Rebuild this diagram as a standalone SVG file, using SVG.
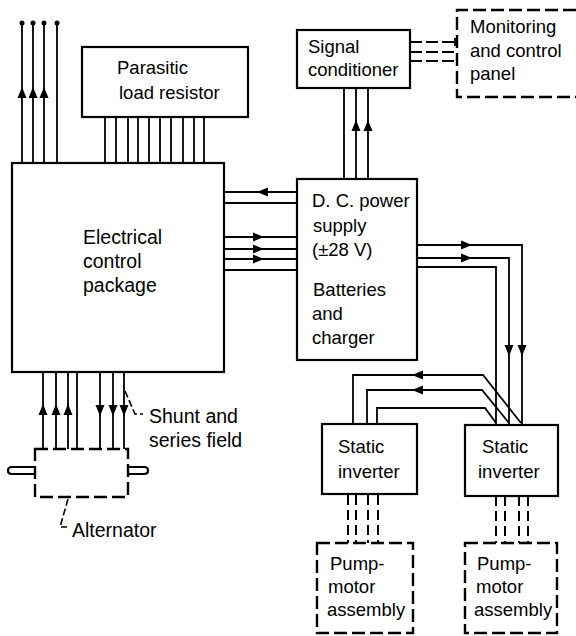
<svg xmlns="http://www.w3.org/2000/svg" xmlns:xlink="http://www.w3.org/1999/xlink" width="576" height="636" viewBox="0 0 576 636">
<style>
  .box { fill: none; stroke: #000; stroke-width: 2.2; }
  .dbox { fill: none; stroke: #000; stroke-width: 2.4; stroke-dasharray: 13 5; }
  .w { fill: none; stroke: #000; stroke-width: 1.8; }
  .dw { fill: none; stroke: #000; stroke-width: 2; stroke-dasharray: 10 5; }
  .ld { fill: none; stroke: #000; stroke-width: 1.6; stroke-dasharray: 7 3; }
  text { font-family: "Liberation Sans", Arial, sans-serif; font-size: 18.5px; fill: #000; }
  .lbl { font-size: 19.5px; }
</style>
<defs>
  <path id="ar" d="M0,0 L-4.5,11 L4.5,11 Z" fill="#000"/>
</defs>
<rect width="576" height="636" fill="#fff"/>

<g id="connectors">
  <!-- top outputs of electrical control package -->
  <path class="w" d="M22,23 V163 M33,23 V163 M44,23 V163 M57,23 V163"/>
  <circle cx="22" cy="23" r="2.5"/><circle cx="33" cy="23" r="2.5"/><circle cx="44" cy="23" r="2.5"/><circle cx="57" cy="23" r="2.5"/>
  <use xlink:href="#ar" transform="translate(22,87)"/>
  <use xlink:href="#ar" transform="translate(33,87)"/>
  <use xlink:href="#ar" transform="translate(44,87)"/>
  <!-- parasitic load resistor to ECP -->
  <path class="w" d="M105,117 V163 M116,117 V163 M128,117 V163 M138,117 V163 M149,117 V163 M160,117 V163 M171,117 V163 M183,117 V163 M194,117 V163 M204,117 V163"/>
  <!-- signal conditioner to DC -->
  <path class="w" d="M344,88 V179 M356,88 V179 M368,88 V179"/>
  <use xlink:href="#ar" transform="translate(356,120)"/>
  <use xlink:href="#ar" transform="translate(368,120)"/>
  <!-- signal conditioner to monitoring panel -->
  <path class="dw" style="stroke-dasharray:12 4" d="M410,42 H457 M410,52 H457 M410,61 H457"/>
  <path class="w" d="M455,38 V46"/>
  <!-- ECP <-> DC power supply -->
  <path class="w" d="M224,192 H297 M224,203 H297 M224,237 H297 M224,249 H297 M224,259 H297 M224,270 H297"/>
  <use xlink:href="#ar" transform="translate(257,192) rotate(-90)"/>
  <use xlink:href="#ar" transform="translate(264,237) rotate(90)"/>
  <use xlink:href="#ar" transform="translate(264,249) rotate(90)"/>
  <use xlink:href="#ar" transform="translate(264,259) rotate(90)"/>
  <!-- DC to right static inverter -->
  <path class="w" d="M417,245 H522 V425 M417,258 H509 V425 M417,267 H496 V425"/>
  <use xlink:href="#ar" transform="translate(472,245) rotate(90)"/>
  <use xlink:href="#ar" transform="translate(472,258) rotate(90)"/>
  <use xlink:href="#ar" transform="translate(509,356) rotate(180)"/>
  <use xlink:href="#ar" transform="translate(522,356) rotate(180)"/>
  <!-- right inverter to left inverter -->
  <path class="w" d="M353,424 V375 H483 L521,423 M367,424 V390 H482 L509,423 M377,424 V408 H485 L496,423"/>
  <use xlink:href="#ar" transform="translate(412,375) rotate(-90)"/>
  <use xlink:href="#ar" transform="translate(412,390) rotate(-90)"/>
  <!-- inverters to pump-motor assemblies -->
  <path class="dw" d="M348,495 V543 M356,495 V543 M368,495 V543 M378,495 V543"/>
  <path class="dw" d="M496,496 V543 M505,496 V543 M519,496 V543 M528,496 V543"/>
  <!-- ECP to alternator -->
  <path class="w" d="M43,372 V449 M56,372 V449 M68,372 V449 M77,372 V449 M100,372 V449 M113,372 V449 M124,372 V449"/>
  <use xlink:href="#ar" transform="translate(43,404)"/>
  <use xlink:href="#ar" transform="translate(56,404)"/>
  <use xlink:href="#ar" transform="translate(68,404)"/>
  <use xlink:href="#ar" transform="translate(100,416) rotate(180)"/>
  <use xlink:href="#ar" transform="translate(113,416) rotate(180)"/>
  <use xlink:href="#ar" transform="translate(124,416) rotate(180)"/>
  <!-- leaders -->
  <path class="ld" d="M125,391 L135,414 H143"/>
  <path class="ld" d="M68,499 L60,527 H67"/>
</g>

<g id="parasitic-load-resistor">
  <rect class="box" x="82" y="47" width="166" height="70"/>
  <text x="117" y="74">Parasitic</text>
  <text x="119" y="99">load resistor</text>
</g>

<g id="signal-conditioner">
  <rect class="box" x="297" y="30" width="113" height="58"/>
  <text x="308" y="53">Signal</text>
  <text x="308" y="76">conditioner</text>
</g>

<g id="monitoring-panel">
  <path class="dbox" d="M576,10 H457 V97 H576"/>
  <text x="470" y="33">Monitoring</text>
  <text x="470" y="57">and control</text>
  <text x="470" y="80">panel</text>
</g>

<g id="electrical-control-package">
  <rect class="box" x="12" y="163" width="212" height="209"/>
  <text class="lbl" x="83" y="244">Electrical</text>
  <text class="lbl" x="83" y="268">control</text>
  <text class="lbl" x="83" y="292">package</text>
</g>

<g id="dc-power-supply">
  <rect class="box" x="297" y="179" width="120" height="181"/>
  <text x="312" y="207">D. C. power</text>
  <text x="313" y="232">supply</text>
  <text x="312" y="256">(±28 V)</text>
  <text x="313" y="296">Batteries</text>
  <text x="312" y="320">and</text>
  <text x="312" y="344">charger</text>
</g>

<g id="static-inverter-left">
  <rect class="box" x="322" y="424" width="95" height="70"/>
  <text x="338" y="453">Static</text>
  <text x="338" y="478">inverter</text>
</g>

<g id="static-inverter-right">
  <rect class="box" x="465" y="425" width="93" height="71"/>
  <text x="482" y="453">Static</text>
  <text x="478" y="478">inverter</text>
</g>

<g id="pump-motor-left">
  <rect class="dbox" x="317" y="543" width="96" height="90"/>
  <text x="330" y="570">Pump-</text>
  <text x="328" y="593">motor</text>
  <text x="327" y="616">assembly</text>
</g>

<g id="pump-motor-right">
  <rect class="dbox" x="465" y="543" width="92" height="90"/>
  <text x="477" y="570">Pump-</text>
  <text x="476" y="593">motor</text>
  <text x="474" y="616">assembly</text>
</g>

<g id="alternator">
  <rect class="dbox" x="35" y="449" width="93" height="48"/>
  <path class="w" style="stroke-width:2.2" d="M35,467 H12 Q8,467 8,470.5 Q8,474 12,474 H35"/>
  <path class="w" style="stroke-width:2.2" d="M128,467 H144 Q148,467 148,470.5 Q148,474 144,474 H128"/>
</g>

<g id="labels">
  <text class="lbl" x="149" y="423">Shunt and</text>
  <text class="lbl" x="149" y="447">series field</text>
  <text class="lbl" x="72" y="537">Alternator</text>
</g>
</svg>
